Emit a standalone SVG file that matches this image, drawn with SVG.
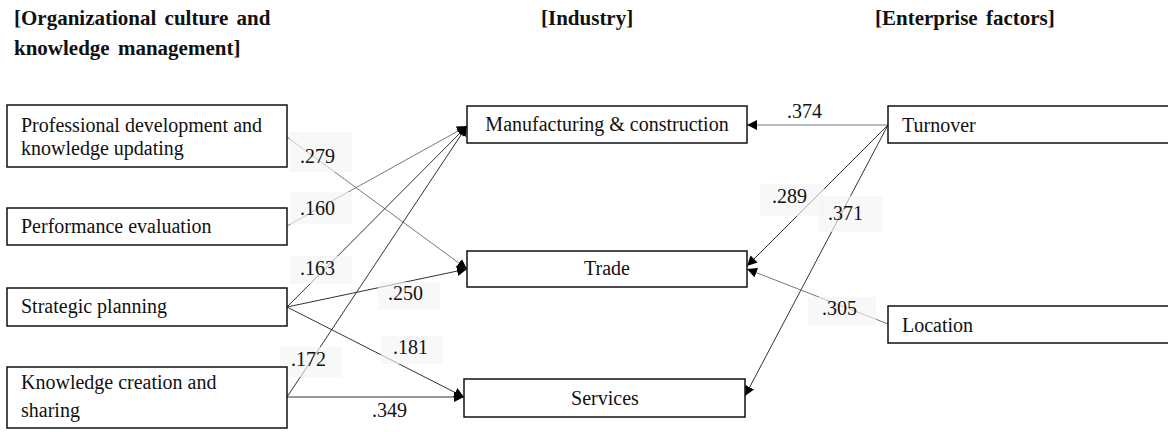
<svg xmlns="http://www.w3.org/2000/svg" width="1168" height="432" viewBox="0 0 1168 432" font-family="Liberation Serif, Times New Roman, DejaVu Serif, serif">
  <style>
    .box { fill: #ffffff; stroke: #111111; stroke-width: 1.5; }
    .t { font-size: 20px; fill: #111111; }
    .h { font-size: 21px; font-weight: bold; fill: #111111; word-spacing: 3px; }
    .mid { text-anchor: middle; }
    .edge { fill: none; stroke: #333333; stroke-width: 1; marker-end: url(#arrow); }
    .edge.light { stroke: #777777; }
    .lbg { fill: #f4f4f4; fill-opacity: 0.65; }
  </style>
  <defs>
    <marker id="arrow" viewBox="0 0 10 10" refX="10" refY="5" markerWidth="10" markerHeight="10" markerUnits="userSpaceOnUse" orient="auto">
      <path d="M0,0 L10,5 L0,10 Z" fill="#000000"/>
    </marker>
  </defs>
  <rect width="1168" height="432" fill="#ffffff"/>

  <!-- column headings -->
  <g id="headings">
    <text class="h" x="14" y="25">[Organizational culture and</text>
    <text class="h" x="14" y="55">knowledge management]</text>
    <text class="h" x="541" y="25">[Industry]</text>
    <text class="h" x="875" y="25">[Enterprise factors]</text>
  </g>

  <!-- paths between factors -->
  <g id="connectors">
    <path class="edge light" d="M287,137 L467,269"/>
    <path class="edge light" d="M287,226 L467,126"/>
    <path class="edge" d="M287,307 L467,126"/>
    <path class="edge" d="M287,307 L467,269"/>
    <path class="edge" d="M287,307 L464,397"/>
    <path class="edge" d="M287,397 L467,126"/>
    <path class="edge" d="M287,397 L464,397"/>
    <path class="edge light" d="M888,125 L747,125"/>
    <path class="edge" d="M888,125 L747,266"/>
    <path class="edge" d="M888,125 L745,396"/>
    <path class="edge light" d="M888,324 L747,269"/>
  </g>

  <!-- coefficient labels -->
  <g id="labels">
    <rect class="lbg" x="290" y="132" width="62" height="40"/>
    <text class="t" x="300" y="163">.279</text>
    <rect class="lbg" x="290" y="192" width="62" height="32"/>
    <text class="t" x="300" y="215">.160</text>
    <rect class="lbg" x="290" y="256" width="62" height="28"/>
    <text class="t" x="300" y="275">.163</text>
    <rect class="lbg" x="378" y="282" width="62" height="28"/>
    <text class="t" x="388" y="300">.250</text>
    <rect class="lbg" x="381" y="336" width="62" height="28"/>
    <text class="t" x="393" y="354">.181</text>
    <rect class="lbg" x="280" y="347" width="62" height="30"/>
    <text class="t" x="291" y="366">.172</text>
    <text class="t" x="372" y="417">.349</text>
    <text class="t" x="787" y="118">.374</text>
    <rect class="lbg" x="760" y="184" width="64" height="32"/>
    <text class="t" x="772" y="203">.289</text>
    <rect class="lbg" x="818" y="196" width="64" height="36"/>
    <text class="t" x="828" y="220">.371</text>
    <rect class="lbg" x="808" y="297" width="68" height="28"/>
    <text class="t" x="822" y="315">.305</text>
  </g>

  <g id="professional-development">
    <rect class="box" x="7" y="105" width="280" height="62"/>
    <text class="t" x="21" y="132">Professional development and</text>
    <text class="t" x="21" y="155">knowledge updating</text>
  </g>
  <g id="performance-evaluation">
    <rect class="box" x="7" y="208" width="280" height="37"/>
    <text class="t" x="21" y="233">Performance evaluation</text>
  </g>
  <g id="strategic-planning">
    <rect class="box" x="7" y="288" width="280" height="38"/>
    <text class="t" x="21" y="313">Strategic planning</text>
  </g>
  <g id="knowledge-creation">
    <rect class="box" x="7" y="367" width="280" height="61"/>
    <text class="t" x="21" y="389">Knowledge creation and</text>
    <text class="t" x="21" y="417">sharing</text>
  </g>

  <g id="manufacturing">
    <rect class="box" x="467" y="106" width="280" height="37"/>
    <text class="t mid" x="607" y="131">Manufacturing &amp; construction</text>
  </g>
  <g id="trade">
    <rect class="box" x="467" y="251" width="280" height="36"/>
    <text class="t mid" x="607" y="275">Trade</text>
  </g>
  <g id="services">
    <rect class="box" x="464" y="379" width="281" height="38"/>
    <text class="t mid" x="605" y="405">Services</text>
  </g>

  <g id="turnover">
    <rect class="box" x="888" y="106" width="300" height="37"/>
    <text class="t" x="902" y="132">Turnover</text>
  </g>
  <g id="location">
    <rect class="box" x="888" y="306" width="300" height="37"/>
    <text class="t" x="902" y="332">Location</text>
  </g>
</svg>
